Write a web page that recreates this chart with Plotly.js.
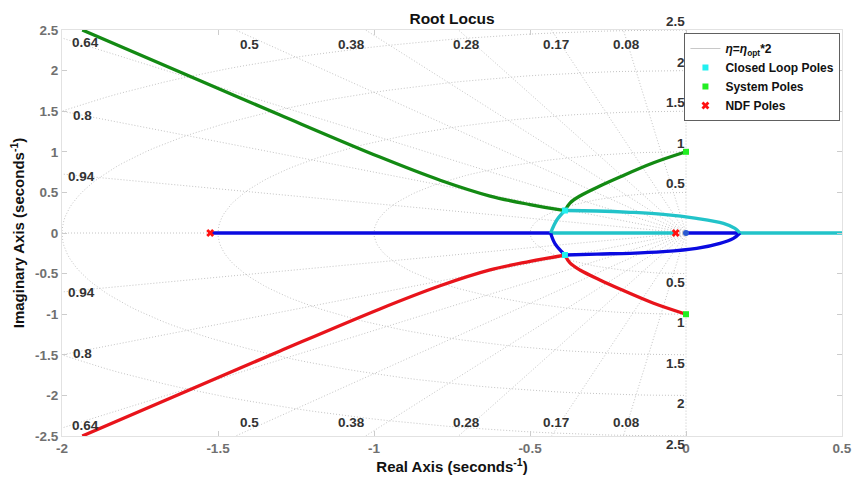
<!DOCTYPE html>
<html>
<head>
<meta charset="utf-8">
<script src="https://cdn.plot.ly/plotly-3.0.1.min.js"></script>
<style>html,body{margin:0;padding:0;background:#fff;}#chart{width:853px;height:485px;}</style>
</head>
<body>
<div id="chart"></div>
<script>
// ---------------- data ----------------
const xTickVals = [-2, -1.5, -1, -0.5, 0, 0.5];
const xTickText = ['-2', '-1.5', '-1', '-0.5', '0', '0.5'];
const yTickVals = [-2.5, -2, -1.5, -1, -0.5, 0, 0.5, 1, 1.5, 2, 2.5];
const yTickText = ['-2.5', '-2', '-1.5', '-1', '-0.5', '0', '0.5', '1', '1.5', '2', '2.5'];

// sgrid values
const zetaGrid = [0.08, 0.17, 0.28, 0.38, 0.5, 0.64, 0.8, 0.94];
const wnGrid = [0.5, 1, 1.5, 2, 2.5];

// upper-left branch (green) and its mirror (red)
const greenFarX = [-1.935, -1.622, -1.301, -0.981, -0.788, -0.628, -0.500, -0.388];
const greenFarY = [2.5, 1.983, 1.453, 0.935, 0.650, 0.455, 0.350, 0.277];
const greenNearX = [-0.388, -0.372, -0.340, -0.276, -0.212, -0.106, 0];
const greenNearY = [0.277, 0.369, 0.456, 0.579, 0.690, 0.862, 1.0];
const redFarX = [-1.935, -1.622, -1.301, -0.981, -0.788, -0.628, -0.500, -0.388];
const redFarY = [-2.5, -1.983, -1.453, -0.935, -0.650, -0.455, -0.350, -0.271];
const redNearX = [-0.388, -0.372, -0.340, -0.276, -0.212, -0.106, 0];
const redNearY = [-0.271, -0.369, -0.456, -0.579, -0.690, -0.862, -1.0];

// loop near the origin
const cyanRiseX = [-0.434, -0.414, -0.388];
const cyanRiseY = [0, 0.16, 0.277];
const cyanTopX = [-0.388, -0.286, -0.179, -0.073, 0.034, 0.120, 0.157, 0.173];
const cyanTopY = [0.277, 0.271, 0.255, 0.230, 0.181, 0.119, 0.057, 0];
const blueDropX = [-0.434, -0.42, -0.388];
const blueDropY = [0, -0.13, -0.271];
const blueBottomX = [-0.388, -0.286, -0.179, -0.073, 0.034, 0.109, 0.152, 0.173];
const blueBottomY = [-0.271, -0.259, -0.25, -0.23, -0.189, -0.127, -0.066, 0];

// real-axis segments
const blueRealX = [-1.525, -0.434, null, 0, 0.173];
const blueRealY = [0, 0, null, 0, 0];
const cyanRealX = [-0.434, -0.033, null, 0.173, 0.5];
const cyanRealY = [0, 0, null, 0, 0];

// poles
const closedLoopX = [-0.388, -0.388];
const closedLoopY = [0.277, -0.271];
const systemPoleX = [0, 0];
const systemPoleY = [1.0, -1.0];
const ndfPoleX = [-1.525, -0.033];
const ndfPoleY = [0, 0];
const originPoleX = [0];
const originPoleY = [0];

// damping-ratio label texts and where they sit
const dampLabels = ['0.64', '0.5', '0.38', '0.28', '0.17', '0.08', '0.8', '0.94'];
const dampLabelX = [-1.926, -1.40, -1.071, -0.705, -0.417, -0.192, -1.934, -1.936];
const dampLabelYTop = [2.35, 2.32, 2.32, 2.32, 2.32, 2.32, 1.453, 0.693];
const dampLabelYBot = [-2.365, -2.336, -2.336, -2.336, -2.336, -2.336, -1.48, -0.73];
const freqLabels = ['0.5', '1', '1.5', '2', '2.5'];

// ---------------- colours ----------------
const cGreen = '#138a13', cRed = '#e8141b', cBlue = '#0a0ae0', cCyan = '#22c3c9';
const gridColor = '#c4c4c4';
const FONT = 'Liberation Sans, Arial, Helvetica, sans-serif';

// ---------------- sgrid traces ----------------
const R = 8;
const gx = [], gy = [];
wnGrid.forEach(w => {
  for (let i = 0; i <= 120; i++) {
    const t = Math.PI / 2 + Math.PI * i / 120;
    gx.push(w * Math.cos(t)); gy.push(w * Math.sin(t));
  }
  gx.push(null); gy.push(null);
});
zetaGrid.forEach(z => {
  const s = Math.sqrt(1 - z * z);
  gx.push(0, -R * z, null, 0, -R * z, null);
  gy.push(0, R * s, null, 0, -R * s, null);
});
gx.push(-R, 0, null, 0, 0, null);
gy.push(0, 0, null, -R, R, null);

const traces = [];
traces.push({x: gx, y: gy, mode: 'lines', line: {color: gridColor, width: 1, dash: '1px,2px'},
  hoverinfo: 'skip', showlegend: false});

function branch(x, y, color) {
  return {x: x, y: y, mode: 'lines', line: {color: color, width: 3.3, shape: 'spline', smoothing: 1},
    hoverinfo: 'skip', showlegend: false};
}
traces.push({x: blueRealX, y: blueRealY, mode: 'lines', line: {color: cBlue, width: 3.3}, showlegend: false, hoverinfo: 'skip'});
traces.push({x: cyanRealX, y: cyanRealY, mode: 'lines', line: {color: cCyan, width: 3.3}, showlegend: false, hoverinfo: 'skip'});
traces.push(branch(greenFarX, greenFarY, cGreen));
traces.push(branch(greenNearX, greenNearY, cGreen));
traces.push(branch(redFarX, redFarY, cRed));
traces.push(branch(redNearX, redNearY, cRed));
traces.push(branch(blueDropX, blueDropY, cBlue));
traces.push(branch(blueBottomX, blueBottomY, cBlue));
traces.push(branch(cyanRiseX, cyanRiseY, cCyan));
traces.push(branch(cyanTopX, cyanTopY, cCyan));

// legend entries
traces.push({x: [null], y: [null], mode: 'lines', line: {color: '#c8c8c8', width: 1},
  name: '<i>η</i>=<i>η</i><sub>opt</sub>*2', showlegend: true});
traces.push({x: closedLoopX, y: closedLoopY, mode: 'markers', name: 'Closed Loop Poles',
  marker: {symbol: 'square', size: 6, color: '#22f0f0', line: {width: 0}}});
traces.push({x: systemPoleX, y: systemPoleY, mode: 'markers', name: 'System Poles',
  marker: {symbol: 'square', size: 6, color: '#22ee22', line: {width: 0}}});
traces.push({x: ndfPoleX, y: ndfPoleY, mode: 'markers', name: 'NDF Poles',
  marker: {symbol: 'x', size: 7, color: '#ff1010', line: {width: 0}}});
traces.push({x: originPoleX, y: originPoleY, mode: 'markers', showlegend: false,
  marker: {symbol: 'circle', size: 6, color: '#2a5bd0'}});

// ---------------- annotations ----------------
const annotations = [];
const lblFont = {family: FONT, size: 13.5, color: '#333333', weight: 'bold'};
dampLabels.forEach((t, i) => {
  annotations.push({x: dampLabelX[i], y: dampLabelYTop[i], xref: 'x', yref: 'y', text: t,
    showarrow: false, xanchor: 'center', yanchor: 'middle', font: lblFont});
  annotations.push({x: dampLabelX[i], y: dampLabelYBot[i], xref: 'x', yref: 'y', text: t,
    showarrow: false, xanchor: 'center', yanchor: 'middle', font: lblFont});
});
freqLabels.forEach((t, i) => {
  annotations.push({x: 0, y: wnGrid[i], xref: 'x', yref: 'y', text: t, showarrow: false,
    xanchor: 'right', yanchor: 'bottom', font: lblFont, borderpad: 0});
  annotations.push({x: 0, y: -wnGrid[i], xref: 'x', yref: 'y', text: t, showarrow: false,
    xanchor: 'right', yanchor: 'top', font: lblFont, borderpad: 0});
});

const tickFont = {family: FONT, size: 13.5, color: '#707070', weight: 'bold'};
const axisCommon = {
  showgrid: false, zeroline: false, showline: true, linecolor: '#e2e2e2', linewidth: 1,
  mirror: 'ticks', ticks: 'inside', ticklen: 5, tickcolor: '#cccccc', tickfont: tickFont
};

const layout = {
  width: 853, height: 485,
  margin: {l: 62, r: 11, t: 30, b: 49},
  paper_bgcolor: '#ffffff', plot_bgcolor: '#ffffff',
  font: {family: FONT},
  title: {text: 'Root Locus', x: 0.53, xanchor: 'center', y: 0.961, yanchor: 'middle', yref: 'container',
    font: {family: FONT, size: 15.5, color: '#111111', weight: 'bold'}},
  xaxis: Object.assign({}, axisCommon, {range: [-2, 0.5], tickmode: 'array', tickvals: xTickVals, ticktext: xTickText,
    title: {text: 'Real Axis (seconds<sup>-1</sup>)', standoff: 4,
      font: {family: FONT, size: 15, color: '#111111', weight: 'bold'}}}),
  yaxis: Object.assign({}, axisCommon, {range: [-2.5, 2.5], tickmode: 'array', tickvals: yTickVals, ticktext: yTickText,
    title: {text: 'Imaginary Axis (seconds<sup>-1</sup>)', standoff: 6,
      font: {family: FONT, size: 15, color: '#111111', weight: 'bold'}}}),
  showlegend: true,
  legend: {x: 0.998, xanchor: 'right', y: 0.9926, yanchor: 'top', bgcolor: '#ffffff',
    bordercolor: '#606060', borderwidth: 1, itemwidth: 30, tracegroupgap: 0,
    font: {family: FONT, size: 12, color: '#111111', weight: 'bold'}},
  annotations: annotations,
  hovermode: false
};

Plotly.newPlot('chart', traces, layout, {staticPlot: true, displayModeBar: false});
</script>
</body>
</html>
